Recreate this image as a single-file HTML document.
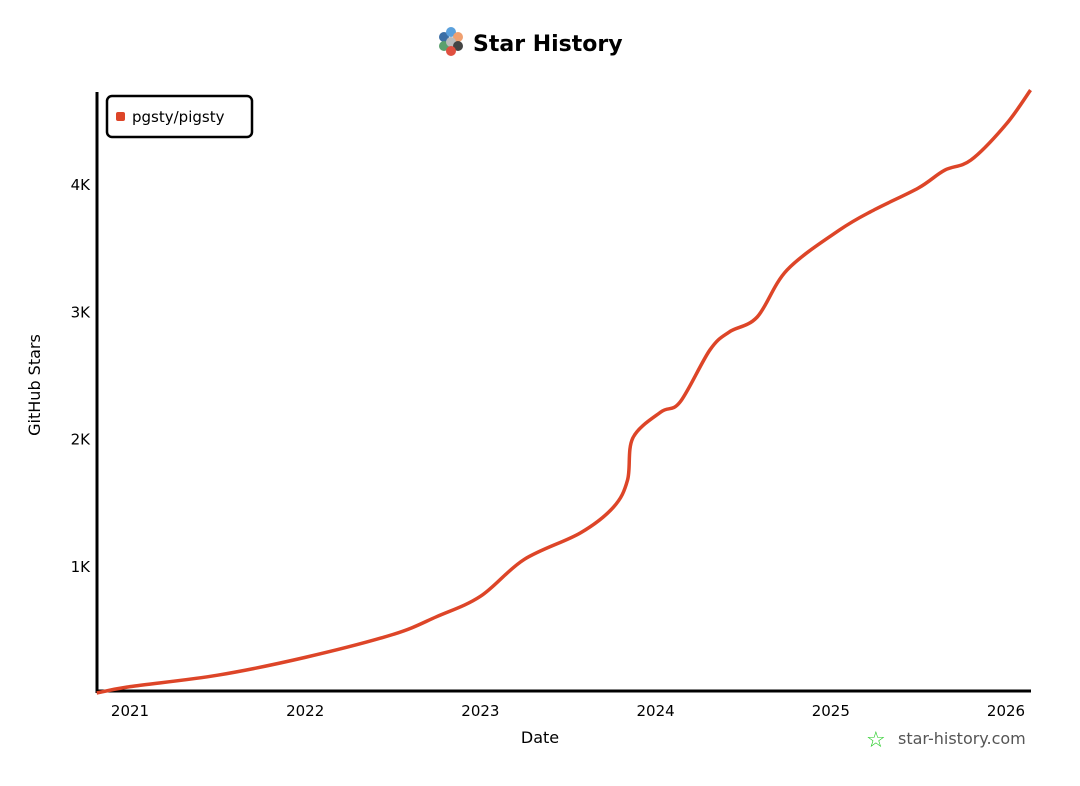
<!DOCTYPE html>
<html><head><meta charset="utf-8"><style>
body{margin:0;background:#fff;}
svg text{font-family:"Comic Sans MS","DejaVu Sans","Liberation Sans",sans-serif;fill:#000;}
</style></head><body>
<svg width="1080" height="781" viewBox="0 0 1080 781">
<g>
<circle cx="444" cy="37" r="5" fill="#3b6ea5"/><circle cx="451" cy="32" r="5" fill="#5aa0dc"/><circle cx="458" cy="37" r="5" fill="#f0a070"/>
<circle cx="444" cy="46" r="5" fill="#5aa06e"/><circle cx="451" cy="42" r="5" fill="#bbb"/><circle cx="458" cy="46" r="5" fill="#444"/><circle cx="451" cy="51" r="5" fill="#e05040"/>
<text x="473" y="51" font-size="22" font-weight="bold">Star History</text>
</g>
<g id="axes"></g>
<g>
<rect x="107" y="96" width="145" height="41" rx="5" fill="#fff" stroke="#000" stroke-width="2.5"/>
<rect x="116" y="112" width="9" height="9" rx="2" fill="#dd4528"/>
<text x="132" y="122" font-size="15">pgsty/pigsty</text>
</g>
<text transform="translate(40,385) rotate(-90)" text-anchor="middle" font-size="16">GitHub Stars</text>
<text x="540" y="743" text-anchor="middle" font-size="16">Date</text>
<g>
<text x="866" y="747" font-size="22" style="fill:#22cc22">☆</text>
<text x="898" y="744" font-size="16" style="fill:#555">star-history.com</text>
</g>
<path id="line" fill="none" stroke="#dd4528" stroke-width="3.5" stroke-linejoin="round"/>
</svg>
<script>
const dates=[2020.81,2021.0,2021.5,2022.0,2022.5,2022.75,2023.0,2023.25,2023.57,2023.76,2023.84,2023.87,2024.03,2024.14,2024.31,2024.42,2024.58,2024.75,2025.05,2025.25,2025.5,2025.65,2025.8,2026.0,2026.14];
const stars=[0,50,140,280,460,600,760,1050,1258,1462,1675,2005,2209,2288,2697,2838,2956,3325,3640,3800,3970,4110,4190,4470,4740];
const yTicks=[1000,2000,3000,4000];
const yTickLabels=["1K","2K","3K","4K"];
const xTicks=[2021,2022,2023,2024,2025,2026];
const xs=d=>130+(d-2021)*175.2;
const ys=v=>693-v*0.1272;
const ns="http://www.w3.org/2000/svg";
const ax=document.getElementById('axes');
function mk(t,a){const e=document.createElementNS(ns,t);for(const k in a)e.setAttribute(k,a[k]);ax.appendChild(e);return e;}
let e=mk('line',{x1:97,y1:92,x2:97,y2:693,stroke:'#000','stroke-width':3});


e=mk('line',{x1:97,y1:691,x2:1031,y2:691,stroke:'#000','stroke-width':3});


yTicks.forEach((v,i)=>{const t=mk('text',{x:90,y:ys(v)+6,'text-anchor':'end','font-size':15});t.textContent=yTickLabels[i];

});
xTicks.forEach(v=>{const t=mk('text',{x:xs(v),y:716,'text-anchor':'middle','font-size':15});t.textContent=v;

});
const pts=dates.map((d,i)=>[xs(d),ys(stars[i])]);
let p='M'+pts[0][0]+','+pts[0][1];
for(let i=0;i<pts.length-1;i++){
  const p0=pts[Math.max(0,i-1)],p1=pts[i],p2=pts[i+1],p3=pts[Math.min(pts.length-1,i+2)];
  const k=1/6;
  const c1=[p1[0]+(p2[0]-p0[0])*k,p1[1]+(p2[1]-p0[1])*k];
  const c2=[p2[0]-(p3[0]-p1[0])*k,p2[1]-(p3[1]-p1[1])*k];
  p+=` C${c1[0]},${c1[1]} ${c2[0]},${c2[1]} ${p2[0]},${p2[1]}`;
}
document.getElementById('line').setAttribute('d',p);
</script>
</body></html>
